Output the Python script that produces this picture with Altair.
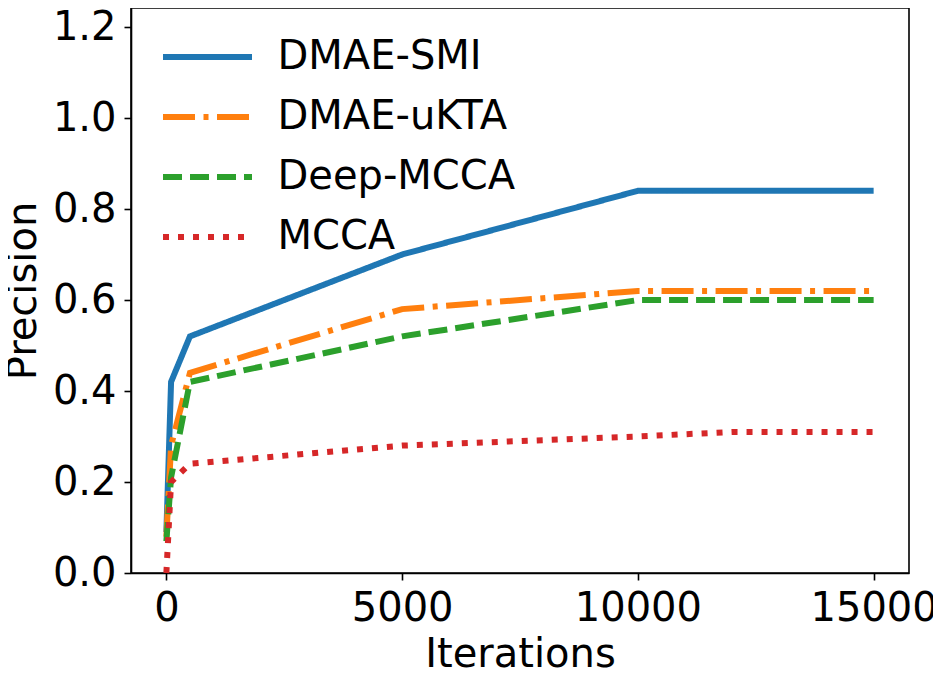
import altair as alt
import pandas as pd

# ---- data ----
series_names = ["DMAE-SMI", "DMAE-uKTA", "Deep-MCCA", "MCCA"]
iters_main = [0, 100, 500, 5000, 10000, 15000]
smi = [0.09, 0.42, 0.52, 0.70, 0.84, 0.84]
ukta = [0.08, 0.28, 0.44, 0.58, 0.62, 0.62]
deep = [0.07, 0.21, 0.42, 0.52, 0.60, 0.60]
iters_mcca = [0, 100, 500, 5000, 10000, 12000, 15000]
mcca = [0.0, 0.20, 0.24, 0.28, 0.30, 0.31, 0.31]

x_ticks = [0, 5000, 10000, 15000]
y_ticks = [0.0, 0.2, 0.4, 0.6, 0.8, 1.0, 1.2]

colors = ["#1f77b4", "#ff7f0e", "#2ca02c", "#d62728"]
dashes = [[1, 0], [32, 8.5, 5, 8.5], [19, 8], [6, 9]]

rows = []
for name, xs, ys in [
    ("DMAE-SMI", iters_main, smi),
    ("DMAE-uKTA", iters_main, ukta),
    ("Deep-MCCA", iters_main, deep),
    ("MCCA", iters_mcca, mcca),
]:
    for xv, yv in zip(xs, ys):
        rows.append({"series": name, "Iterations": xv, "Precision": yv})
df = pd.DataFrame(rows)

FONT = "DejaVu Sans"

chart = (
    alt.Chart(df)
    .mark_line(strokeWidth=6, strokeCap="butt", strokeJoin="miter")
    .encode(
        x=alt.X(
            "Iterations:Q",
            scale=alt.Scale(domain=[-750, 15750], nice=False, zero=False),
            axis=alt.Axis(values=x_ticks, format="d", title="Iterations", titlePadding=6),
        ),
        y=alt.Y(
            "Precision:Q",
            scale=alt.Scale(domain=[0, 1.2418], nice=False),
            axis=alt.Axis(values=y_ticks, format=".1f", title="Precision", titlePadding=9),
        ),
        color=alt.Color(
            "series:N",
            scale=alt.Scale(domain=series_names, range=colors),
            legend=alt.Legend(
                title=None,
                orient="none",
                legendX=46.5,
                legendY=19,
                symbolType="M-1.648,0H1.648",
                symbolSize=2916,
                symbolStrokeWidth=6,
                labelFontSize=40,
                labelFont=FONT,
                labelColor="black",
                labelOffset=40,
                labelLimit=600,
                rowPadding=10,
                padding=0,
            ),
        ),
        strokeDash=alt.StrokeDash(
            "series:N",
            scale=alt.Scale(domain=series_names, range=dashes),
            legend=None,
        ),
        order=alt.Order("Iterations:Q"),
    )
    .properties(
        width=778,
        height=565,
        autosize=alt.AutoSizeParams(type="none"),
        padding={"left": 123, "top": 0, "right": 24, "bottom": 96},
    )
    .configure_view(stroke="black", strokeWidth=1.6)
    .configure_axis(
        labelFont=FONT,
        labelFontSize=40,
        labelColor="black",
        titleFont=FONT,
        titleFontSize=40,
        titleColor="black",
        titleFontWeight="normal",
        domainColor="black",
        domainWidth=1.6,
        tickColor="black",
        tickWidth=1.6,
        tickSize=7,
        labelPadding=8,
        grid=False,
    )
)

chart.save("out.html", embed_options={"renderer": "svg", "actions": False})
